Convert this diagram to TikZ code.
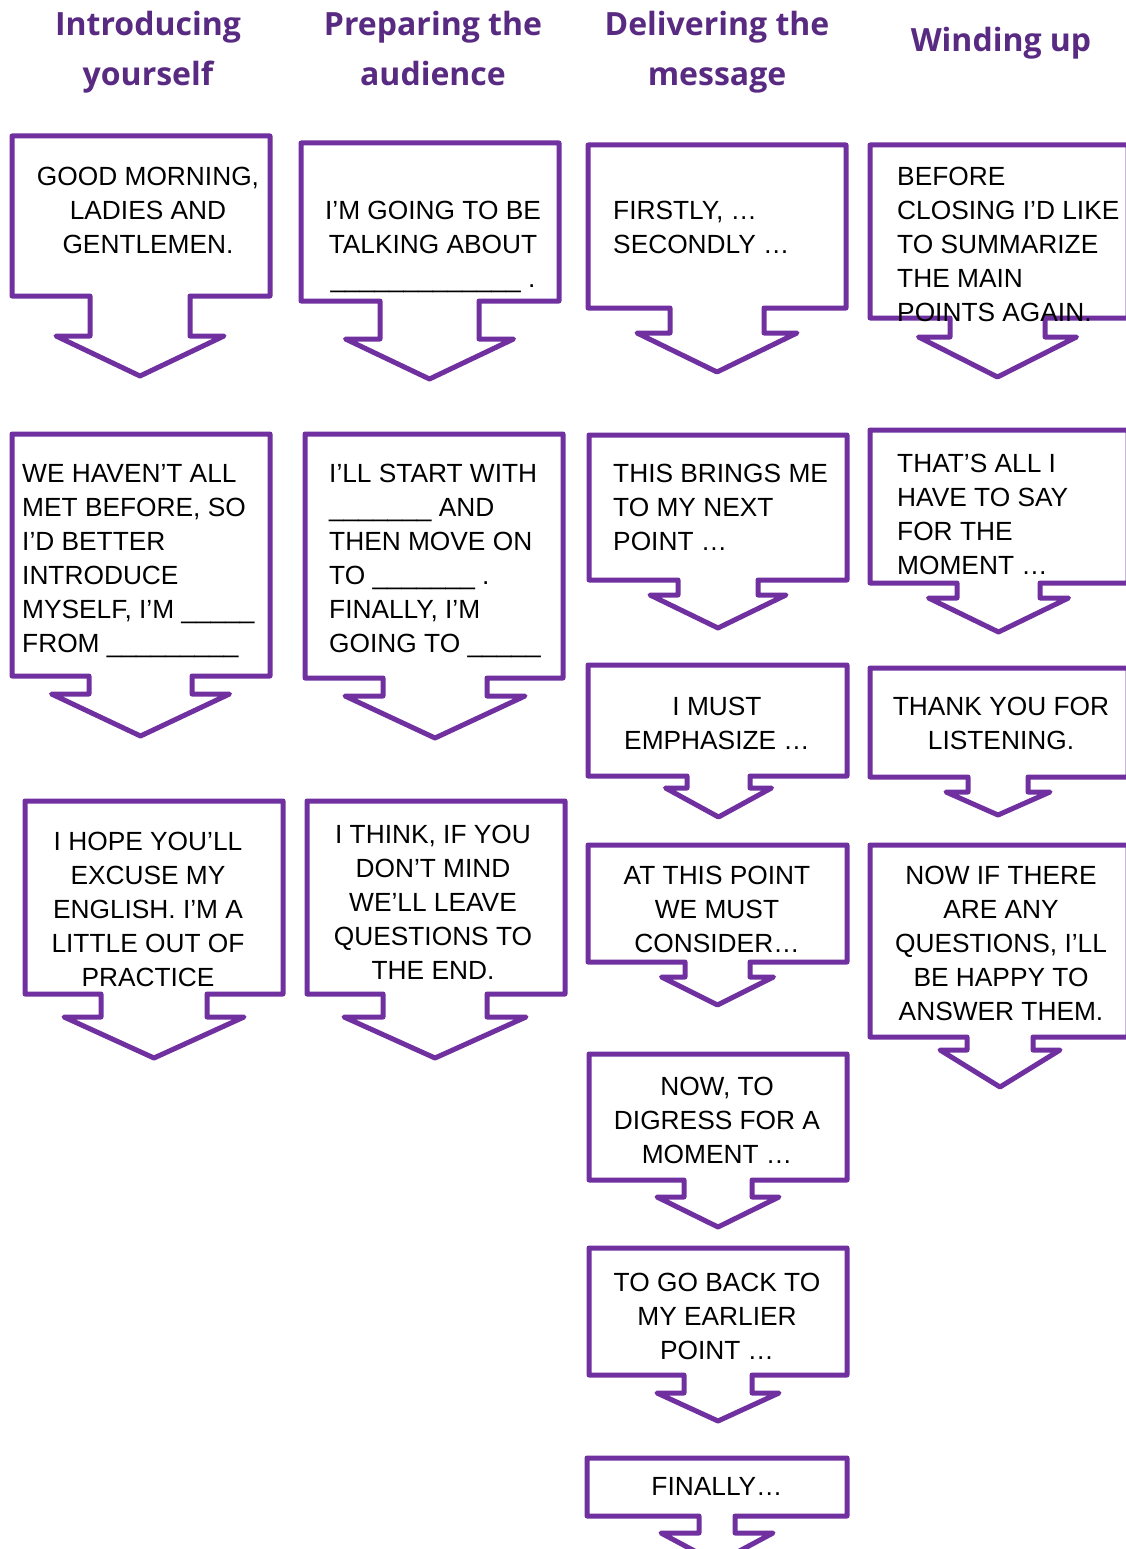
\documentclass[tikz,border=0pt]{standalone}
\usepackage{fontspec}
\setmainfont{Liberation Sans}
\newfontfamily\headfont{Open Sans}
\definecolor{boxline}{RGB}{112,48,160}
\definecolor{headtxt}{RGB}{89,42,130}

% Rectangle with a down-pointing arrow underneath.
% #1,#2 top-left; #3,#4 bottom-right; #5,#6 stem left/right;
% #7 stem bottom; #8 half width of the head; #9 tip y
\newcommand\arrowbox[9]{%
  \draw[calloutline] (#5,#4) -- (#1,#4) -- (#1,#2) -- (#3,#2) -- (#3,#4)
    -- (#6,#4) -- (#6,#7) -- ({(#5+#6)/2+#8},#7) -- ({(#5+#6)/2},#9)
    -- ({(#5+#6)/2-#8},#7) -- (#5,#7) -- cycle;}

\tikzset{
  calloutline/.style={draw=boxline, fill=white, line width=5pt, line join=round},
  head/.style={font=\headfont\bfseries\fontsize{32}{50}\selectfont, text=headtxt,
    inner sep=0pt, anchor=base},
  ctext/.style={font=\fontsize{26.3}{34}\selectfont, inner sep=0pt,
    anchor=north, align=center},
  ltext/.style={font=\fontsize{26.3}{34}\selectfont, inner sep=0pt,
    anchor=north west, align=left},
}

\begin{document}
\begin{tikzpicture}[x=1pt,y=-1pt]
\useasboundingbox (0,0) rectangle (1126,1549);

% column headings
\node[head] (h1a) at (148,36) {Introducing};
\node[head] (h1b) at (148,86) {yourself};
\node[head] (h2a) at (433,36) {Preparing the};
\node[head] (h2b) at (433,86) {audience};
\node[head] (h3a) at (717,36) {Delivering the};
\node[head] (h3b) at (717,86) {message};
\node[head] (h4a) at (1001,52) {Winding up};

% column 1
\arrowbox{12}{136}{270}{296}{90}{190}{336}{84}{376}
\arrowbox{12}{434}{270}{676}{89}{192}{694}{89}{736}
\arrowbox{25}{801}{283}{994}{101}{207}{1017}{90}{1058}
% column 2
\arrowbox{301}{143}{559}{301}{380}{479}{339}{84}{379}
\arrowbox{305}{434}{563}{678}{383}{487}{696}{90}{738}
\arrowbox{307}{801}{565}{994}{383}{487}{1017}{91}{1058}
% column 3
\arrowbox{588}{145}{846}{308}{670}{764}{333}{80}{372}
\arrowbox{589}{435}{847}{580}{678}{758}{595}{68}{628}
\arrowbox{588}{665}{847}{776}{687}{750}{788}{53}{817}
\arrowbox{588}{845}{847}{962}{685}{750}{977}{56}{1005}
\arrowbox{589}{1054}{847}{1180}{684}{752}{1197}{61}{1227}
\arrowbox{589}{1248}{847}{1375}{684}{752}{1393}{61}{1421}
\arrowbox{587}{1458}{847}{1516}{699}{735}{1533}{56}{1563}
% column 4
\arrowbox{870}{145}{1128}{318}{950}{1045}{337}{79}{377}
\arrowbox{870}{430}{1128}{583}{957}{1040}{598}{70}{632}
\arrowbox{870}{668}{1128}{777}{968}{1028}{792}{52}{815}
\arrowbox{870}{845}{1128}{1037}{967}{1033}{1050}{60}{1087}

% texts, column 1
\node[ctext] (t11) at (148,167) {GOOD MORNING,\\LADIES AND\\GENTLEMEN.};
\node[ltext] (t12) at (22,464) {WE HAVEN’T ALL\\MET BEFORE, SO\\I’D BETTER\\INTRODUCE\\MYSELF, I’M \_\_\_\_\_\\FROM \_\_\_\_\_\_\_\_\_};
\node[ctext] (t13) at (148,832) {I HOPE YOU’LL\\EXCUSE MY\\ENGLISH. I’M A\\LITTLE OUT OF\\PRACTICE};
% column 2
\node[ctext] (t21) at (433,201) {I’M GOING TO BE\\TALKING ABOUT\\\_\_\_\_\_\_\_\_\_\_\_\_\_ .};
\node[ltext] (t22) at (329,464) {I’LL START WITH\\\_\_\_\_\_\_\_ AND\\THEN MOVE ON\\TO \_\_\_\_\_\_\_ .\\FINALLY, I’M\\GOING TO \_\_\_\_\_};
\node[ctext] (t23) at (433,825) {I THINK, IF YOU\\DON’T MIND\\WE’LL LEAVE\\QUESTIONS TO\\THE END.};
% column 3
\node[ltext] (t31) at (613,201) {FIRSTLY, …\\SECONDLY …};
\node[ltext] (t32) at (613,464) {THIS BRINGS ME\\TO MY NEXT\\POINT …};
\node[ctext] (t33) at (717,697) {I MUST\\EMPHASIZE …};
\node[ctext] (t34) at (717,866) {AT THIS POINT\\WE MUST\\CONSIDER…};
\node[ctext] (t35) at (717,1077) {NOW, TO\\DIGRESS FOR A\\MOMENT …};
\node[ctext] (t36) at (717,1273) {TO GO BACK TO\\MY EARLIER\\POINT …};
\node[ctext] (t37) at (717,1477) {FINALLY…};
% column 4
\node[ltext] (t41) at (897,167) {BEFORE\\CLOSING I’D LIKE\\TO SUMMARIZE\\THE MAIN\\POINTS AGAIN.};
\node[ltext] (t42) at (897,454) {THAT’S ALL I\\HAVE TO SAY\\FOR THE\\MOMENT …};
\node[ctext] (t43) at (1001,697) {THANK YOU FOR\\LISTENING.};
\node[ctext] (t44) at (1001,866) {NOW IF THERE\\ARE ANY\\QUESTIONS, I’LL\\BE HAPPY TO\\ANSWER THEM.};
\end{tikzpicture}
\end{document}
